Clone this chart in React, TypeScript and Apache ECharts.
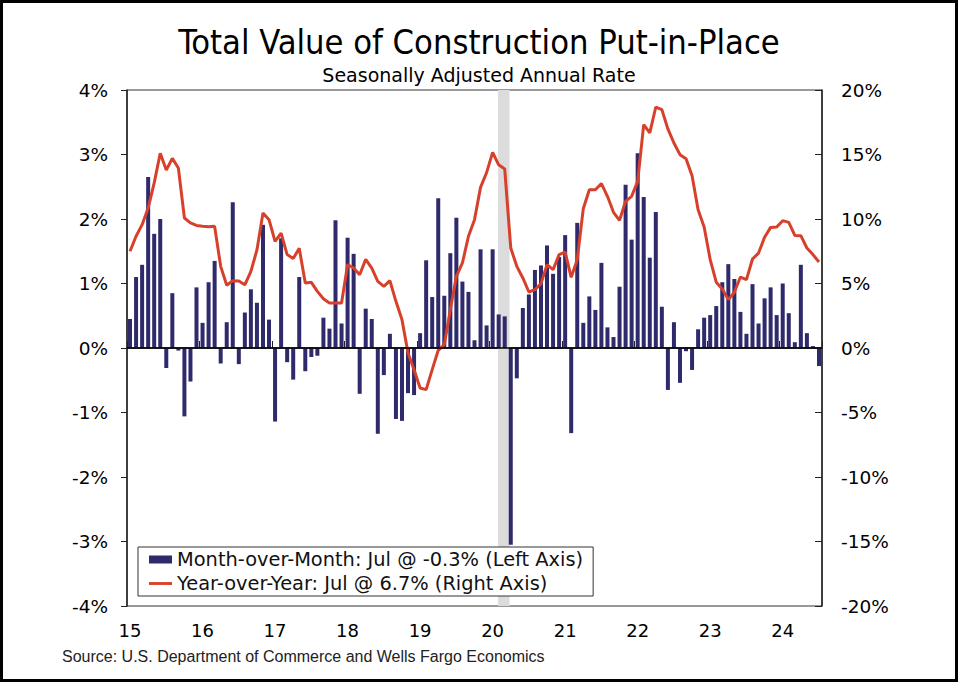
import { useEffect, useRef } from 'react';
import * as echarts from 'echarts';

const yearLabels = ['15', '16', '17', '18', '19', '20', '21', '22', '23', '24'];

// Month-over-month % change, Jan 2015 .. Jul 2024 (left axis)
const momChange = [
  0.45, 1.10, 1.29, 2.65, 1.77, 2.00, -0.31, 0.85, -0.04, -1.06, -0.52, 0.94,
  0.39, 1.02, 1.35, -0.24, 0.40, 2.26, -0.25, 0.55, 0.91, 0.70, 1.91, 0.44,
  -1.14, 1.70, -0.22, -0.49, 1.10, -0.36, -0.14, -0.12, 0.47, 0.30, 1.98, 0.38,
  1.71, 1.46, -0.71, 0.61, 0.45, -1.33, -0.42, 0.22, -1.10, -1.13, -0.70, -0.73,
  0.23, 1.36, 0.79, 2.32, 0.81, 1.47, 2.02, 1.03, 0.87, 0.12, 1.53, 0.35,
  1.53, 0.52, 0.49, -3.05, -0.47, 0.62, 0.83, 1.21, 1.28, 1.59, 1.15, 1.41,
  1.75, -1.32, 1.94, 0.39, 0.80, 0.59, 1.32, 0.32, 0.17, 0.95, 2.53, 1.68,
  3.02, 2.34, 1.40, 2.11, 0.64, -0.65, 0.40, -0.54, -0.05, -0.34, 0.29, 0.47,
  0.51, 0.65, 1.02, 1.30, 1.07, 0.56, 0.22, 0.99, 0.38, 0.77, 0.94, 0.51,
  1.00, 0.54, 0.09, 1.29, 0.23, 0.03, -0.28,
];

// Year-over-year % change (right axis)
const yoyChange = [
  7.5, 8.66, 9.56, 10.85, 12.8, 15.1, 13.8, 14.7, 13.95, 10.08, 9.7, 9.5,
  9.43, 9.4, 9.43, 6.33, 4.86, 5.22, 5.2, 4.9, 5.94, 7.6, 10.46, 9.95,
  8.27, 8.9, 7.24, 6.93, 7.73, 5.04, 5.09, 4.39, 3.82, 3.49, 3.49, 3.49,
  6.46, 6.2, 5.68, 6.87, 6.2, 5.17, 4.78, 5.22, 3.62, 2.2, -0.39, -1.68,
  -3.1, -3.23, -1.68, -0.18, 0.26, 2.97, 5.56, 6.59, 8.66, 9.95, 12.45, 13.6,
  15.17, 14.2, 13.88, 7.75, 6.33, 5.43, 4.34, 4.52, 4.99, 6.46, 6.07, 7.24,
  7.44, 5.48, 6.85, 10.8, 12.27, 12.27, 12.75, 11.76, 10.52, 9.9, 11.37, 11.76,
  12.92, 17.31, 16.67, 18.68, 18.48, 16.98, 15.89, 14.99, 14.68, 13.36, 10.72, 9.38,
  6.85, 5.1, 4.57, 3.75, 4.32, 5.5, 5.3, 6.9, 7.36, 8.58, 9.35, 9.38,
  9.87, 9.74, 8.73, 8.71, 7.75, 7.24, 6.67,
];

// Recession shading (in months since Jan 2015)
const recessionSpan = [61.4, 63.3];

const lastMonthName = 'Jul';

const BAR_COLOR = '#2E2A6B';
const LINE_COLOR = '#D7412B';
const AXIS_FONT = '"DejaVu Sans", Verdana, sans-serif';
const TITLE_FONT = '"Liberation Sans Narrow", "DejaVu Sans Condensed", sans-serif';

export default function App() {
  const ref = useRef<HTMLDivElement>(null);

  useEffect(() => {
    if (!ref.current) return;
    const chart = echarts.init(ref.current, undefined, { renderer: 'svg' });
    const momName = `Month-over-Month: ${lastMonthName} @ ${momChange[momChange.length - 1].toFixed(1)}% (Left Axis)`;
    const yoyName = `Year-over-Year: ${lastMonthName} @ ${yoyChange[yoyChange.length - 1].toFixed(1)}% (Right Axis)`;
    const nMonths = momChange.length;

    chart.setOption({
      animation: false,
      backgroundColor: '#fff',
      title: [
        {
          text: 'Total Value of Construction Put-in-Place',
          left: 'center',
          top: 20,
          textStyle: { fontFamily: TITLE_FONT, fontWeight: 'normal', fontSize: 34.2, color: '#000' },
        },
        {
          text: 'Seasonally Adjusted Annual Rate',
          left: 'center',
          top: 60,
          textStyle: { fontFamily: AXIS_FONT, fontWeight: 'normal', fontSize: 19, color: '#000' },
        },
      ],
      grid: { left: 127, right: 136, top: 90, bottom: 76, show: true, borderColor: '#333', borderWidth: 1 },
      legend: {
        orient: 'vertical',
        left: 138,
        top: 547,
        padding: [3, 10, 3, 11],
        itemGap: 5,
        itemWidth: 23,
        itemHeight: 8,
        borderColor: '#333',
        borderWidth: 1,
        backgroundColor: '#fff',
        textStyle: { fontFamily: AXIS_FONT, fontSize: 19.4, color: '#111' },
        data: [
          { name: momName, icon: 'rect' },
          { name: yoyName, icon: 'path://M0,0 L24,0 L24,3 L0,3 Z' },
        ],
      },
      xAxis: {
        type: 'value',
        min: 0,
        max: nMonths,
        interval: 12,
        splitLine: { show: false },
        axisLine: { lineStyle: { color: '#222', width: 1.5 } },
        axisTick: { inside: true, length: 7, lineStyle: { color: '#222' } },
        axisLabel: {
          formatter: (v: number) => (v % 12 === 0 ? yearLabels[v / 12] ?? '' : ''),
          fontFamily: AXIS_FONT,
          fontSize: 18,
          color: '#000',
          margin: 15,
          padding: [0, 0, 0, 6],
        },
      },
      yAxis: [
        {
          type: 'value',
          position: 'left',
          min: -4,
          max: 4,
          interval: 1,
          splitLine: { show: false },
          axisLine: { show: true, lineStyle: { color: '#222', width: 1.5 } },
          axisTick: { show: true, inside: false, length: 6, lineStyle: { color: '#222' } },
          axisLabel: { formatter: '{value}%', fontFamily: AXIS_FONT, fontSize: 18.5, color: '#000', margin: 19 },
        },
        {
          type: 'value',
          position: 'right',
          min: -20,
          max: 20,
          interval: 5,
          splitLine: { show: false },
          axisLine: { show: true, lineStyle: { color: '#222', width: 1.5 } },
          axisTick: { show: true, inside: true, length: 7, lineStyle: { color: '#222' } },
          axisLabel: { formatter: '{value}%', fontFamily: AXIS_FONT, fontSize: 18.5, color: '#000', margin: 19 },
        },
      ],
      series: [
        {
          name: momName,
          type: 'bar',
          yAxisIndex: 0,
          barWidth: 4,
          itemStyle: { color: BAR_COLOR },
          data: momChange.map((v, i) => [i + 0.5, v]),
          markArea: {
            silent: true,
            itemStyle: { color: '#DCDCDC' },
            data: [[{ xAxis: recessionSpan[0] }, { xAxis: recessionSpan[1] }]],
          },
          markLine: {
            silent: true,
            symbol: ['none', 'none'],
            label: { show: false },
            lineStyle: { color: '#000', width: 1.5, type: 'solid' },
            data: [{ yAxis: 0 }],
          },
        },
        {
          name: yoyName,
          type: 'line',
          yAxisIndex: 1,
          symbol: 'none',
          showSymbol: false,
          z: 4,
          lineStyle: { color: LINE_COLOR, width: 3 },
          itemStyle: { color: LINE_COLOR },
          data: yoyChange.map((v, i) => [i + 0.5, v]),
        },
      ],
      graphic: [
        {
          type: 'text',
          left: 62,
          top: 648,
          style: {
            text: 'Source: U.S. Department of Commerce and Wells Fargo Economics',
            font: '16px "Liberation Sans", Arial, sans-serif',
            fill: '#222',
          },
        },
        {
          type: 'rect',
          shape: { x: 1.5, y: 1.5, width: 955, height: 679 },
          style: { fill: 'none', stroke: '#000', lineWidth: 3 },
          silent: true,
        },
      ],
    });
    return () => chart.dispose();
  }, []);

  return (
    <div
      ref={ref}
      style={{ position: 'fixed', left: 0, top: 0, width: 958, height: 682 }}
    />
  );
}
